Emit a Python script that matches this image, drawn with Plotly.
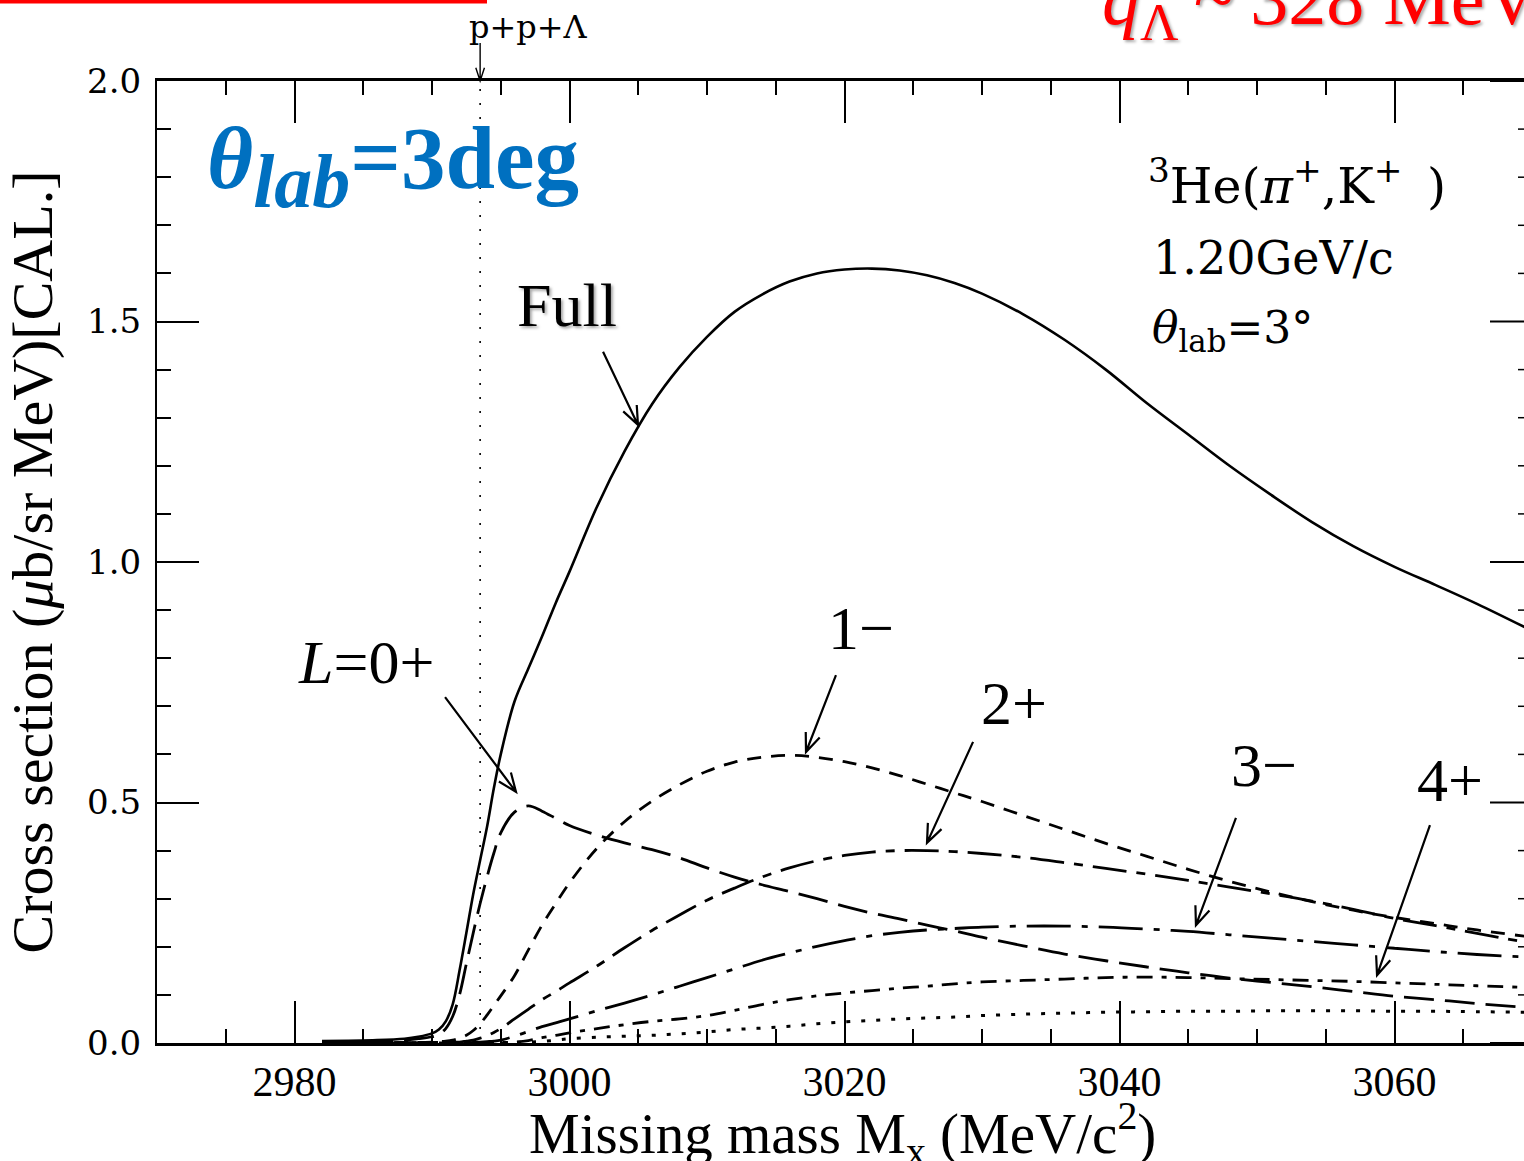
import math
import plotly.graph_objects as go

# ---------------------------------------------------------------- data
# Missing-mass grid (MeV/c^2) shared by every curve
mass = [2982, 2986, 2988, 2989, 2990, 2990.5, 2991, 2991.5, 2992, 2992.5,
        2993, 2993.5, 2994, 2994.5, 2995, 2996, 2997, 2998, 2999, 3000,
        3002, 3004, 3006, 3008, 3010, 3012, 3014, 3016, 3018, 3020,
        3022, 3024, 3026, 3028, 3030, 3033, 3036, 3039, 3042, 3045,
        3048, 3051, 3054, 3057, 3060, 3063, 3066, 3070]

# Cross sections (ub/sr MeV)
xs_full = [0.004, 0.006, 0.009, 0.013, 0.020, 0.028, 0.045, 0.080, 0.150, 0.229,
           0.310, 0.380, 0.449, 0.530, 0.600, 0.710, 0.778, 0.845, 0.915, 0.980,
           1.115, 1.230, 1.328, 1.405, 1.468, 1.520, 1.556, 1.583, 1.600, 1.608,
           1.610, 1.606, 1.596, 1.580, 1.558, 1.515, 1.462, 1.400, 1.330, 1.265,
           1.200, 1.140, 1.083, 1.033, 0.990, 0.952, 0.913, 0.857]
xs_0p = [0.003, 0.004, 0.006, 0.009, 0.013, 0.018, 0.030, 0.055, 0.100, 0.165,
         0.229, 0.290, 0.345, 0.395, 0.437, 0.480, 0.493, 0.482, 0.467, 0.452,
         0.432, 0.416, 0.402, 0.385, 0.364, 0.345, 0.329, 0.315, 0.300, 0.284,
         0.270, 0.258, 0.245, 0.233, 0.220, 0.202, 0.185, 0.171, 0.158, 0.146,
         0.135, 0.126, 0.117, 0.107, 0.097, 0.090, 0.082, 0.073]
xs_1m = [0.000, 0.000, 0.001, 0.001, 0.002, 0.003, 0.004, 0.006, 0.010, 0.016,
         0.026, 0.040, 0.058, 0.078, 0.098, 0.140, 0.193, 0.245, 0.290, 0.333,
         0.405, 0.460, 0.503, 0.537, 0.565, 0.584, 0.594, 0.598, 0.594, 0.585,
         0.572, 0.556, 0.538, 0.520, 0.502, 0.473, 0.444, 0.415, 0.388, 0.361,
         0.336, 0.314, 0.294, 0.276, 0.261, 0.248, 0.235, 0.220]
xs_2p = [0.000, 0.000, 0.000, 0.000, 0.001, 0.001, 0.001, 0.002, 0.002, 0.004,
         0.006, 0.010, 0.015, 0.022, 0.030, 0.050, 0.070, 0.090, 0.107, 0.125,
         0.160, 0.198, 0.234, 0.266, 0.297, 0.322, 0.345, 0.364, 0.379, 0.390,
         0.397, 0.400, 0.400, 0.398, 0.394, 0.386, 0.375, 0.363, 0.351, 0.338,
         0.324, 0.310, 0.295, 0.278, 0.259, 0.244, 0.228, 0.207]
xs_3m = [0.000, 0.000, 0.000, 0.000, 0.000, 0.000, 0.000, 0.000, 0.001, 0.001,
         0.001, 0.002, 0.003, 0.004, 0.006, 0.014, 0.024, 0.034, 0.042, 0.050,
         0.067, 0.083, 0.100, 0.118, 0.136, 0.154, 0.172, 0.187, 0.201, 0.213,
         0.223, 0.230, 0.235, 0.238, 0.241, 0.243, 0.243, 0.241, 0.237, 0.232,
         0.225, 0.218, 0.211, 0.204, 0.197, 0.190, 0.184, 0.178]
xs_4p = [0.000, 0.000, 0.000, 0.000, 0.000, 0.000, 0.000, 0.000, 0.000, 0.000,
         0.000, 0.001, 0.001, 0.001, 0.001, 0.002, 0.005, 0.011, 0.016, 0.021,
         0.030, 0.038, 0.045, 0.050, 0.057, 0.068, 0.080, 0.090, 0.098, 0.104,
         0.109, 0.114, 0.118, 0.123, 0.127, 0.130, 0.133, 0.136, 0.137, 0.136,
         0.134, 0.132, 0.130, 0.128, 0.125, 0.122, 0.119, 0.115]
xs_5p = [0.000, 0.000, 0.000, 0.000, 0.000, 0.000, 0.000, 0.000, 0.000, 0.000,
         0.000, 0.000, 0.000, 0.000, 0.000, 0.001, 0.002, 0.003, 0.006, 0.009,
         0.012, 0.014, 0.016, 0.019, 0.023, 0.028, 0.031, 0.035, 0.040, 0.044,
         0.047, 0.050, 0.052, 0.054, 0.057, 0.060, 0.062, 0.064, 0.065, 0.066,
         0.066, 0.067, 0.067, 0.067, 0.066, 0.066, 0.065, 0.064]

# p+p+Lambda break-up threshold (MeV/c^2)
threshold = 2993.5

# Curve labels: (text, mass, cross section) and arrow (tail, tip)
label_text = ["Full", "<i>L</i>=0+", "1\u2212", "2+", "3\u2212", "4+"]
label_pos = [(2999.8, 1.535), (2985.2, 0.792), (3021.2, 0.863),
             (3032.3, 0.707), (3050.5, 0.578), (3064.0, 0.547)]
arrow_tail = [(3002.44, 1.437), (2990.95, 0.719), (3019.38, 0.765),
              (3029.35, 0.626), (3048.47, 0.468), (3062.58, 0.453)]
arrow_tip = [(3004.98, 1.285), (2996.11, 0.522), (3017.20, 0.605),
             (3026.00, 0.416), (3045.56, 0.245), (3058.73, 0.141)]

# Axis ticks
x_major, x_minor = 20, 5
y_major, y_minor = 0.5, 0.1

# ---------------------------------------------------------------- geometry
W, H = 1524, 1161
ML, MR, MT, MB = 157, 0, 81, 118
PLOT_W, PLOT_H = W - ML - MR, H - MT - MB
PX_PER_MEV = 13.75
X_LO = 2970.0
X_HI = X_LO + PLOT_W / PX_PER_MEV
X_FRAME = 3070.0               # right frame edge (just outside the page)
Y_LO, Y_HI = 0.0, 2.0
PX_PER_Y = PLOT_H / (Y_HI - Y_LO)

SERIF = "Liberation Serif"
WIDE_SERIF = "DejaVu Serif"

fig = go.Figure()

curves = [
    (xs_full, "solid", 2.6),
    (xs_0p, "30px,11px", 2.8),
    (xs_1m, "14px,10px", 2.8),
    (xs_2p, "34px,10px,9px,10px", 2.8),
    (xs_3m, "44px,11px,6px,11px", 2.8),
    (xs_4p, "16px,9px,5px,9px", 2.8),
    (xs_5p, "4px,11px", 3.0),
]
for ys, dash, w in curves:
    fig.add_trace(go.Scatter(
        x=mass, y=ys, mode="lines",
        line=dict(color="black", width=w, dash=dash, shape="spline", smoothing=1.0),
        showlegend=False, hoverinfo="skip"))

# threshold marker
fig.add_trace(go.Scatter(
    x=[threshold, threshold], y=[Y_LO, Y_HI], mode="lines",
    line=dict(color="black", width=1.6, dash="2px,12px"),
    showlegend=False, hoverinfo="skip"))


def arrow_path(tail, tip, kx, ky, head_len=20.0, half_angle=22.0):
    ux = (tip[0] - tail[0]) * kx
    uy = (tip[1] - tail[1]) * ky
    n = math.hypot(ux, uy)
    bx, by = -ux / n, -uy / n
    heads = []
    for s in (1, -1):
        a = math.radians(half_angle) * s
        rx = bx * math.cos(a) - by * math.sin(a)
        ry = bx * math.sin(a) + by * math.cos(a)
        heads.append((tip[0] + head_len * rx / kx, tip[1] + head_len * ry / ky))
    (h1x, h1y), (h2x, h2y) = heads
    return (f"M {tail[0]},{tail[1]} L {tip[0]},{tip[1]} "
            f"M {h1x},{h1y} L {tip[0]},{tip[1]} L {h2x},{h2y}")


shapes = []
for tail, tip in zip(arrow_tail, arrow_tip):
    shapes.append(dict(type="path", xref="x", yref="y",
                       path=arrow_path(tail, tip, PX_PER_MEV, PX_PER_Y),
                       line=dict(color="black", width=2.2)))

# threshold arrow above the frame
shapes.append(dict(type="path", xref="x", yref="paper",
                   path=arrow_path((threshold, 1.0 + 38 / PLOT_H), (threshold, 1.0),
                                   PX_PER_MEV, PLOT_H, head_len=14, half_angle=18),
                   line=dict(color="black", width=1.4)))

# ticks on the right-hand frame edge
n_ticks = int(round((Y_HI - Y_LO) / y_minor))
for i in range(n_ticks + 1):
    v = Y_LO + i * y_minor
    major = abs(v / y_major - round(v / y_major)) < 1e-6
    ln = (42 if major else 14) / PX_PER_MEV
    shapes.append(dict(type="line", xref="x", yref="y",
                       x0=X_FRAME - ln, x1=X_FRAME, y0=v, y1=v,
                       line=dict(color="black", width=2 if major else 1.5)))

# red rule at the very top
shapes.append(dict(type="rect", xref="paper", yref="paper",
                   x0=(0 - ML) / PLOT_W, x1=(487 - ML) / PLOT_W,
                   y0=(H - MB - 3.5) / PLOT_H, y1=(H - MB + 2) / PLOT_H,
                   fillcolor="#FF0000", line=dict(width=0)))


def px(xp):
    return (xp - ML) / PLOT_W


def py(yp):
    return (H - MB - yp) / PLOT_H


annotations = []
shadow = "2px 2px 3px rgba(0,0,0,0.35)"
for txt, (lx, ly) in zip(label_text, label_pos):
    annotations.append(dict(
        x=lx, y=ly, xref="x", yref="y", text=txt, showarrow=False,
        xanchor="center", yanchor="middle",
        font=dict(family=SERIF, size=62, color="black",
                  shadow=shadow if txt == "Full" else "none")))

annotations += [
    dict(x=px(205), y=py(166), xref="paper", yref="paper", showarrow=False,
         xanchor="left", yanchor="middle",
         text=("<b><i>\u03b8</i></b><sub><span style='font-size:76px'>"
               "<b><i>lab</i></b></span></sub><b>=3deg</b>"),
         font=dict(family=SERIF, size=89, color="#0070C0")),
    dict(x=px(1100), y=py(4), xref="paper", yref="paper", showarrow=False,
         xanchor="left", yanchor="middle",
         text="<i>q</i><sub>\u039b</sub>\u2009~\u2009328 MeV/c",
         font=dict(family=SERIF, size=76, color="#FF0000", shadow=shadow)),
    dict(x=px(467), y=py(27), xref="paper", yref="paper", showarrow=False,
         xanchor="left", yanchor="middle", text="p+p+\u039b",
         font=dict(family=WIDE_SERIF, size=32, color="black")),
    dict(x=px(1146), y=py(182), xref="paper", yref="paper", showarrow=False,
         xanchor="left", yanchor="middle",
         text="<sup>3</sup>He(<i>\u03c0</i><sup>+</sup>,K<sup>+</sup>\u2002)",
         font=dict(family=WIDE_SERIF, size=49, color="black")),
    dict(x=px(1151), y=py(258), xref="paper", yref="paper", showarrow=False,
         xanchor="left", yanchor="middle", text="1.20GeV/c",
         font=dict(family=WIDE_SERIF, size=46, color="black")),
    dict(x=px(1150), y=py(330), xref="paper", yref="paper", showarrow=False,
         xanchor="left", yanchor="middle",
         text="<i>\u03b8</i><sub>lab</sub>=3\u00b0",
         font=dict(family=WIDE_SERIF, size=44, color="black")),
    # horizontal axis title
    dict(x=px(842), y=py(1133), xref="paper", yref="paper", showarrow=False,
         xanchor="center", yanchor="middle",
         text="Missing mass M<sub>x</sub> (MeV/c<sup>2</sup>)",
         font=dict(family=SERIF, size=57, color="black")),
]

fig.update_layout(
    width=W, height=H,
    margin=dict(l=ML, r=MR, t=MT, b=MB, pad=0),
    paper_bgcolor="white", plot_bgcolor="white",
    showlegend=False,
    shapes=shapes,
    annotations=annotations,
    xaxis=dict(
        range=[X_LO, X_HI], showgrid=False, zeroline=False, automargin=False,
        showline=True, linecolor="black", linewidth=3, mirror="ticks",
        ticks="inside", ticklen=42, tickwidth=2, tickcolor="black",
        tick0=2980, dtick=x_major,
        minor=dict(ticks="inside", ticklen=14, tickwidth=1.5, tickcolor="black",
                   dtick=x_minor, showgrid=False),
        tickfont=dict(family=SERIF, size=42, color="black"),
        ticklabelstandoff=0,
    ),
    yaxis=dict(
        range=[Y_LO, Y_HI], showgrid=False, zeroline=False, automargin=False,
        showline=True, linecolor="black", linewidth=2, mirror=False,
        ticks="inside", ticklen=42, tickwidth=2, tickcolor="black",
        tick0=0, dtick=y_major, tickformat=".1f",
        minor=dict(ticks="inside", ticklen=14, tickwidth=1.5, tickcolor="black",
                   dtick=y_minor, showgrid=False),
        tickfont=dict(family=WIDE_SERIF, size=34, color="black"),
        ticklabelstandoff=7,
        title=dict(text="Cross section (<i>\u03bc</i>b/sr MeV)[CAL.]",
                   font=dict(family=SERIF, size=58, color="black"), standoff=33),
    ),
)

fig.write_html("out.html")
